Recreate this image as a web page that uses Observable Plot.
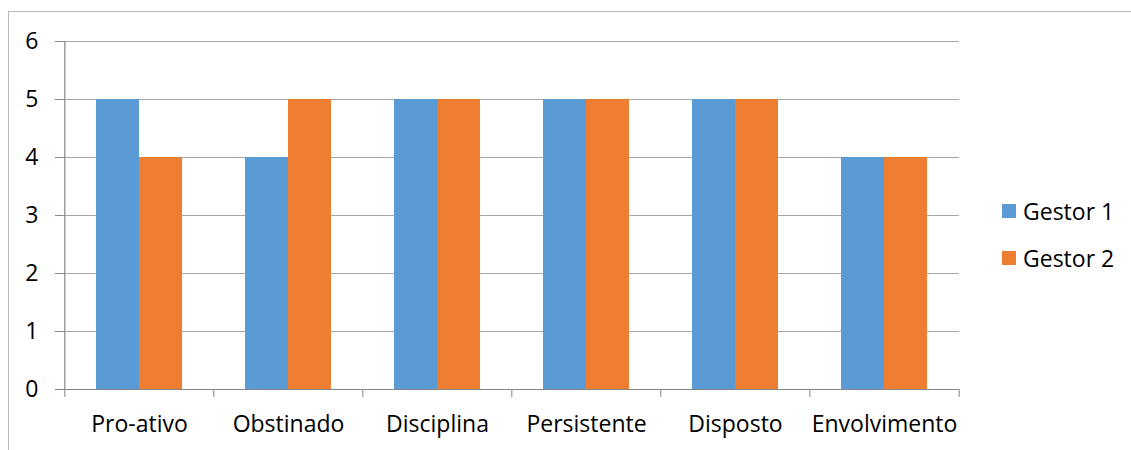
<!DOCTYPE html>
<html>
<head>
<meta charset="utf-8">
<script src="https://cdn.jsdelivr.net/npm/d3@7"></script>
<script src="https://cdn.jsdelivr.net/npm/@observablehq/plot@0.6"></script>
<style>
  html, body { margin: 0; padding: 0; background: #fff; }
  #wrap { position: relative; width: 1131px; height: 450px; overflow: hidden; font-family: "Open Sans", sans-serif; }
  #border { position: absolute; left: 8px; top: 11px; width: 1200px; height: 500px; border: 1px solid #b8b8b8; box-sizing: border-box; }
  #chart { position: absolute; left: 0; top: 0; }
  .legend { position: absolute; left: 1002px; font-size: 23px; color: #000; display: flex; align-items: center; line-height: 28px; }
  .legend span.sw { display: inline-block; width: 14px; height: 14px; margin-right: 7px; }
</style>
</head>
<body>
<div id="wrap">
  <div id="border"></div>
  <div id="chart"></div>
  <div id="legend"></div>
</div>
<script>
const categories = ["Pro-ativo", "Obstinado", "Disciplina", "Persistente", "Disposto", "Envolvimento"];
const gestor1 = [5, 4, 5, 5, 5, 4];
const gestor2 = [4, 5, 5, 5, 5, 4];
const seriesNames = ["Gestor 1", "Gestor 2"];
const seriesColors = ["#5B9BD5", "#ED7D31"];
const yTicks = [0, 1, 2, 3, 4, 5, 6];

const rows1 = categories.map((c, i) => ({category: c, value: gestor1[i]}));
const rows2 = categories.map((c, i) => ({category: c, value: gestor2[i]}));

const W = 1131, H = 450;
const mL = 63, mR = 172, mT = 41, mB = 61;
const pad = 0.424;
const step = (W - mL - mR) / categories.length;
const bw = step * (1 - pad);
const font = "'Open Sans', sans-serif";

const plot = Plot.plot({
  width: W,
  height: H,
  marginLeft: mL,
  marginRight: mR,
  marginTop: mT,
  marginBottom: mB,
  style: {fontFamily: font, fontSize: "23px", color: "#000", background: "transparent"},
  x: {type: "band", domain: categories, paddingInner: pad, paddingOuter: pad / 2, axis: null, label: null},
  y: {domain: [0, 6], axis: null, label: null},
  marks: [
    Plot.ruleY(yTicks.filter(d => d > 0), {stroke: "#a6a6a6", strokeWidth: 1.2}),
    Plot.barY(rows1, {x: "category", y: "value", fill: seriesColors[0], insetRight: bw / 2}),
    Plot.barY(rows2, {x: "category", y: "value", fill: seriesColors[1], insetLeft: bw / 2}),
    Plot.ruleY([0], {stroke: "#868686", strokeWidth: 1.2}),
    Plot.ruleX([categories[0]], {dx: -step / 2, y1: 0, y2: 6, stroke: "#868686", strokeWidth: 1.2}),
    Plot.axisY(yTicks, {tickSize: 8, tickPadding: 17, stroke: "#868686", fill: "#000", fontSize: 23, tickFormat: d3.format("d"), label: null}),
    Plot.axisX(categories, {tickSize: 8, text: null, dx: -step / 2, stroke: "#868686", label: null}),
    Plot.axisX([categories[categories.length - 1]], {tickSize: 8, text: null, dx: step / 2, stroke: "#868686", label: null}),
    Plot.axisX(categories, {tickSize: 0, tickPadding: 26, fill: "#000", fontSize: 23, label: null})
  ]
});
document.getElementById("chart").appendChild(plot);

const lg = document.getElementById("legend");
const legendTops = [197, 244];
seriesNames.forEach((name, i) => {
  const d = document.createElement("div");
  d.className = "legend";
  d.style.top = legendTops[i] + "px";
  d.innerHTML = `<span class="sw" style="background:${seriesColors[i]}"></span><span>${name}</span>`;
  lg.appendChild(d);
});
</script>
</body>
</html>
